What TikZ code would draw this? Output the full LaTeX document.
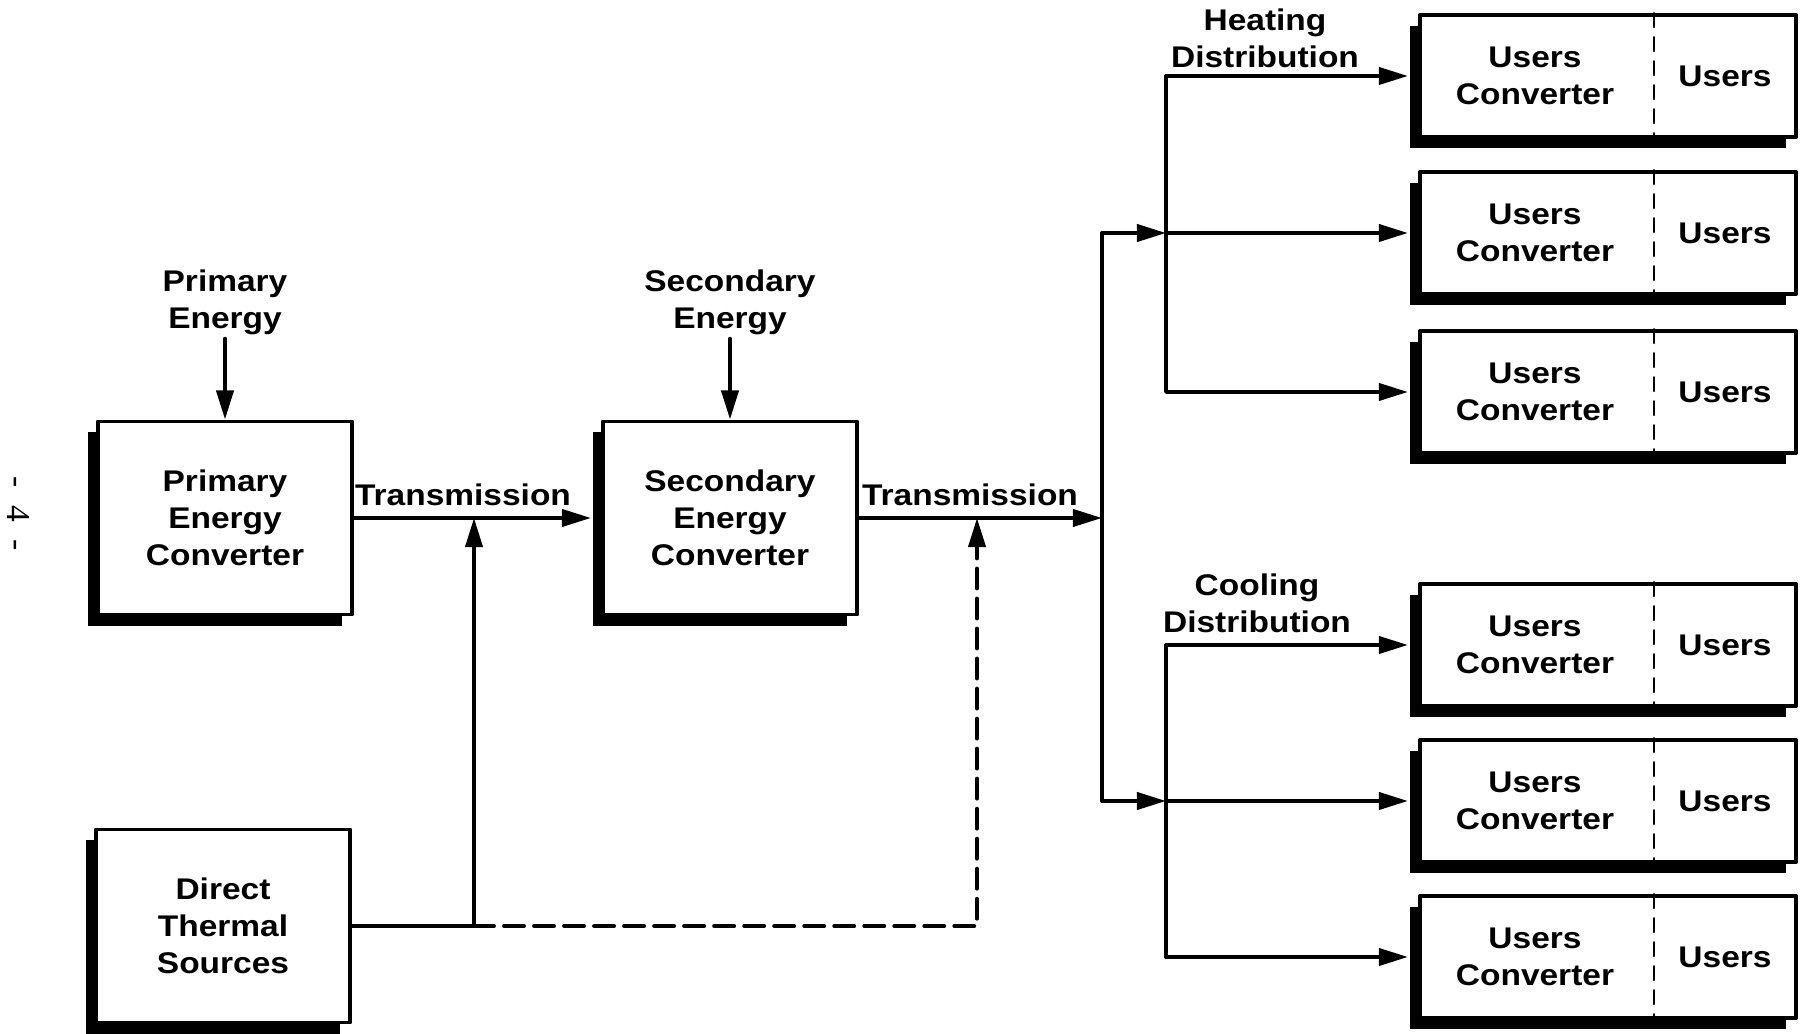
\documentclass[tikz,border=0pt]{standalone}
\usepackage{fontspec}
\setmainfont{Liberation Sans}[FakeStretch=1.12]
\newfontfamily\pagefont{Liberation Serif}
\usetikzlibrary{arrows.meta,shadows}
\begin{document}
\begin{tikzpicture}[x=0.01cm, y=-0.01cm, line join=round, line cap=round,
	font=\bfseries\fontsize{8.5}{10.5}\selectfont,
	>={Triangle[length=2.9mm, width=1.7mm]},
	wire/.style={line width=1.1pt},
	flow/.style={wire, ->},
	intobox/.style={flow, shorten >=1mm},
	longdash/.style={dash pattern=on 2mm off 1mm},
	divider/.style={line width=0.6pt, dash pattern=on 1.4mm off 1mm},
	boxed/.style={draw, line width=1.1pt, fill=white, align=center, inner sep=0pt,
		drop shadow={shadow xshift=-1mm, shadow yshift=-1.1mm, fill=black, opacity=1}},
	conv/.style={boxed, minimum width=2.54cm, minimum height=1.93cm},
	users/.style={boxed, minimum width=3.76cm, minimum height=1.22cm},
	lbl/.style={align=center, inner sep=1pt}]
	\useasboundingbox (0,0) rectangle (1805,1034);
	\node[font=\pagefont\fontsize{9.5}{11}\selectfont, rotate=-90] (pg) at (18,514) {-\hspace{5pt}4\hspace{5pt}-};
	\node[lbl] (pe) at (225,302) {Primary\\Energy};
	\node[conv] (prim) at (225,518) {Primary\\Energy\\Converter};
	\node[lbl] (se) at (730,302) {Secondary\\Energy};
	\node[conv] (sec) at (730,518) {Secondary\\Energy\\Converter};
	\node[conv] (dts) at (223,926) {Direct\\Thermal\\Sources};
	\node (tr1) at (463,495) {Transmission};
	\node (tr2) at (970,495) {Transmission};
	\node[lbl] (hd) at (1265,38) {Heating\\Distribution};
	\node[lbl] (cd) at (1257,603) {Cooling\\Distribution};
	\foreach \i/\y in {1/76, 2/233, 3/392, 4/645, 5/801, 6/957} {
		\node[users] (u\i) at (1608,\y) {};
		\draw[divider] ([xshift=0.46cm]u\i.north) -- ([xshift=0.46cm]u\i.south);
		\node[lbl] (uc\i) at (1535,\y) {Users\\Converter};
		\node (us\i) at (1725,\y) {Users};
	}
	\coordinate (b1t) at (1102,233);
	\coordinate (b1m) at (1102,518);
	\coordinate (b1b) at (1102,801);
	\coordinate (hbt) at (1166,76);
	\coordinate (hbm) at (1166,233);
	\coordinate (hbb) at (1166,392);
	\coordinate (cbt) at (1166,645);
	\coordinate (cbm) at (1166,801);
	\coordinate (cbb) at (1166,957);
	\coordinate (t1) at (474,518);
	\coordinate (t2) at (977,518);
	\coordinate (dj) at (474,926);
	\coordinate (dk) at (977,926);
	\draw[flow] (pe) -- (prim);
	\draw[flow] (se) -- (sec);
	\draw[intobox] (prim) -- (sec);
	\draw[flow] (sec) -- (b1m);
	\draw[flow] (dts.east) -- (dj) -- (t1);
	\draw[flow, longdash] (dj) -- (dk) -- (t2);
	\draw[wire, <->] (hbm) -- (b1t) -- (b1b) -- (cbm);
	\draw[intobox, shorten <=1mm, <->] (u1) -- (hbt) -- (hbb) -- (u3);
	\draw[intobox] (hbm) -- (u2);
	\draw[intobox, shorten <=1mm, <->] (u4) -- (cbt) -- (cbb) -- (u6);
	\draw[intobox] (cbm) -- (u5);
\end{tikzpicture}
\end{document}
